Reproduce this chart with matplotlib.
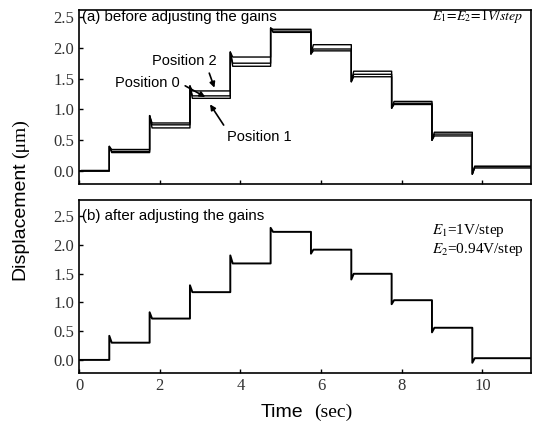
import numpy as np
import matplotlib.pyplot as plt

plt.rcParams["mathtext.fontset"] = "stix"

# --- data ---
# step start times (sec); first segment starts at 0
step_starts = [0.0, 0.75, 1.75, 2.75, 3.75, 4.75, 5.75, 6.75, 7.75, 8.75, 9.75]
t_end = 11.2

# (a) before adjusting the gains: plateau levels for the three positions
pos0_levels = [0.00, 0.32, 0.75, 1.22, 1.75, 2.27, 1.98, 1.57, 1.10, 0.60, 0.07]
pos1_levels = [0.00, 0.30, 0.70, 1.18, 1.70, 2.25, 1.95, 1.53, 1.08, 0.57, 0.05]
pos2_levels = [0.01, 0.35, 0.78, 1.30, 1.85, 2.30, 2.05, 1.62, 1.13, 0.63, 0.08]
spikes_a = [0.00, 0.40, 0.90, 1.38, 1.93, 2.32, 1.90, 1.45, 1.02, 0.50, -0.05]

# (b) after adjusting the gains
after_levels = [0.00, 0.30, 0.72, 1.18, 1.68, 2.23, 1.92, 1.50, 1.04, 0.56, 0.03]
spikes_b = [0.00, 0.42, 0.83, 1.30, 1.82, 2.30, 1.85, 1.40, 0.97, 0.48, -0.05]

yticks = [0.0, 0.5, 1.0, 1.5, 2.0, 2.5]
xticks = [0, 2, 4, 6, 8, 10]


def step_trace(levels, spikes):
    # plateau per segment, with the overshoot at its start
    xs, ys = [], []
    ends = step_starts[1:] + [t_end]
    for s, e, lv, sp in zip(step_starts, ends, levels, spikes):
        xs += [s, s + 0.06, e]
        ys += [sp, lv, lv]
    return xs, ys


fig = plt.figure(figsize=(5.34, 4.24), dpi=100)
ax1 = fig.add_axes([0.148, 0.566, 0.846, 0.410])
ax2 = fig.add_axes([0.148, 0.120, 0.846, 0.409])

for lv in (pos0_levels, pos1_levels, pos2_levels):
    x, y = step_trace(lv, spikes_a)
    ax1.plot(x, y, color="black", linewidth=1.0)

x, y = step_trace(after_levels, spikes_b)
ax2.plot(x, y, color="black", linewidth=1.4)

for ax in (ax1, ax2):
    ax.set_xlim(0, t_end)
    ax.set_xticks(xticks)
    ax.set_yticks(yticks)
    ax.set_yticklabels([f"{v:.1f}" for v in yticks])
    ax.tick_params(direction="in", length=3, width=1, labelsize=12)
    for lab in ax.get_xticklabels() + ax.get_yticklabels():
        lab.set_fontfamily("Liberation Serif")
        lab.set_color("#333333")
    for sp in ax.spines.values():
        sp.set_linewidth(1.2)

ax1.set_ylim(-0.21, 2.61)
ax2.set_ylim(-0.23, 2.79)
ax1.set_xticklabels([])

# panel labels
ax1.text(0.08, 2.5, "(a) before adjusting the gains", family="Liberation Sans",
         fontsize=10.8, va="center")
ax2.text(0.08, 2.5, "(b) after adjusting the gains", family="Liberation Sans",
         fontsize=10.8, va="center")

ax1.text(8.74, 2.52, r"$E_1\!=\!E_2\!=\!1V/step$", fontsize=10, va="center")
ax2.text(8.74, 2.26, r"$E_1$=1V/step", family="Liberation Serif",
         fontsize=11, va="center")
ax2.text(8.74, 1.92, r"$E_2$=0.94V/step", family="Liberation Serif",
         fontsize=11, va="center")

# position annotations
arrow = dict(arrowstyle="-|>", color="black", lw=1.2, mutation_scale=8)
ax1.annotate("Position 2", xy=(3.38, 1.31), xytext=(2.62, 1.79),
             family="Liberation Sans", fontsize=10.5, ha="center", va="center",
             arrowprops=dict(arrow, relpos=(0.85, 0.0)))
ax1.annotate("Position 0", xy=(3.19, 1.18), xytext=(1.70, 1.43),
             family="Liberation Sans", fontsize=10.5, ha="center", va="center",
             arrowprops=dict(arrow, relpos=(1.0, 0.5)))
ax1.annotate("Position 1", xy=(3.21, 1.12), xytext=(4.47, 0.55),
             family="Liberation Sans", fontsize=10.5, ha="center", va="center",
             arrowprops=dict(arrow, relpos=(0.0, 1.0)))

# axis titles: sans words with serif units
fig.text(0.038, 0.34, "Displacement", rotation=90, family="Liberation Sans",
         fontsize=14, ha="center", va="bottom")
fig.text(0.038, 0.628, "(\u03bcm)", rotation=90, family="Liberation Serif",
         fontsize=14, ha="center", va="bottom")
fig.text(0.567, 0.028, "Time", family="Liberation Sans", fontsize=14,
         ha="right", va="center")
fig.text(0.588, 0.028, "(sec)", family="Liberation Serif", fontsize=14,
         ha="left", va="center")

fig.savefig("out.png", dpi=100)
